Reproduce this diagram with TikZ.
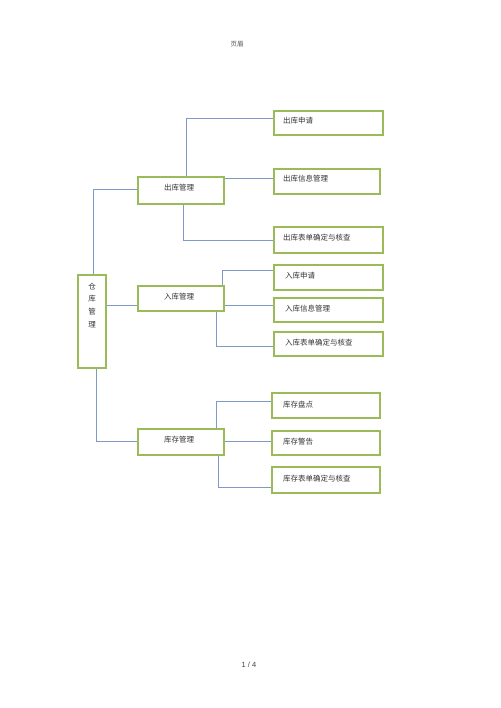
\documentclass[tikz,border=0pt]{standalone}
\usepackage{fontspec}
\setmainfont{Liberation Sans}
\newfontfamily\cjk{Noto Sans CJK SC}
\definecolor{boxgreen}{HTML}{9BBB59}
\definecolor{linkblue}{HTML}{7F9AC4}
\definecolor{hdrgrey}{HTML}{555555}
\begin{document}
\begin{tikzpicture}[x=1pt,y=-1pt,
  box/.style={draw=boxgreen,line width=1.8pt,fill=white,inner sep=0pt},
  lbl/.style={font=\cjk\fontsize{7.5}{9}\selectfont,text=black!80,inner sep=0pt,anchor=west},
  clbl/.style={font=\cjk\fontsize{7.5}{9}\selectfont,text=black!80,inner sep=0pt},
  link/.style={draw=linkblue,line width=0.8pt}]
\useasboundingbox (0,0) rectangle (500,708);
% header / footer
\node[font=\cjk\fontsize{6.5}{8}\selectfont,text=hdrgrey] (hdr) at (237,44) {页眉};
\node[font=\fontsize{7.5}{9}\selectfont,text=black!75] (ftr) at (249,665) {1 / 4};

% coordinates for connectors
\coordinate (t1) at (93,189);
\coordinate (t2) at (96,441);
\coordinate (a1) at (186,118);
\coordinate (a3) at (183,240);
\coordinate (b1) at (222,270);
\coordinate (b3) at (216,346);
\coordinate (c1) at (216,401);
\coordinate (c3) at (218,487);

% connectors (drawn first, boxes on top)
\draw[link] (93,275) -- (t1) -- (138,189);
\draw[link] (96,368) -- (t2) -- (138,441);
\draw[link] (106,305) -- (138,305);
% out
\draw[link] (186,177) -- (a1) -- (274,118);
\draw[link] (217,178) -- (274,178);
\draw[link] (183,204) -- (a3) -- (274,240);
% in
\draw[link] (222,286) -- (b1) -- (274,270);
\draw[link] (224,305) -- (274,305);
\draw[link] (216,311) -- (b3) -- (274,346);
% stock
\draw[link] (216,429) -- (c1) -- (272,401);
\draw[link] (224,441) -- (272,441);
\draw[link] (218,455) -- (c3) -- (272,487);

% root
\draw[box] (78,275) rectangle (106,368);
\node[clbl] (r1) at (92,287) {仓};
\node[clbl] (r2) at (92,299) {库};
\node[clbl] (r3) at (92,312) {管};
\node[clbl] (r4) at (92,325) {理};

% level 2
\draw[box] (138,177) rectangle (224,204);
\node[clbl] (m1) at (179,188) {出库管理};
\draw[box] (138,286) rectangle (224,311);
\node[clbl] (m2) at (179,297) {入库管理};
\draw[box] (138,429) rectangle (224,455);
\node[clbl] (m3) at (179,440) {库存管理};

% level 3 - out
\draw[box] (274,111) rectangle (383,135);
\node[lbl] (o1) at (283,121) {出库申请};
\draw[box] (274,169) rectangle (380,194);
\node[lbl] (o2) at (283,179) {出库信息管理};
\draw[box] (274,227) rectangle (383,253);
\node[lbl] (o3) at (283,238) {出库表单确定与核查};

% level 3 - in
\draw[box] (274,265) rectangle (383,290);
\node[lbl] (i1) at (285,276) {入库申请};
\draw[box] (274,298) rectangle (383,322);
\node[lbl] (i2) at (285,309) {入库信息管理};
\draw[box] (274,332) rectangle (383,356);
\node[lbl] (i3) at (285,343) {入库表单确定与核查};

% level 3 - stock
\draw[box] (272,393) rectangle (380,418);
\node[lbl] (s1) at (283,405) {库存盘点};
\draw[box] (272,431) rectangle (380,455);
\node[lbl] (s2) at (283,442) {库存警告};
\draw[box] (272,467) rectangle (380,493);
\node[lbl] (s3) at (283,479) {库存表单确定与核查};
\end{tikzpicture}
\end{document}
